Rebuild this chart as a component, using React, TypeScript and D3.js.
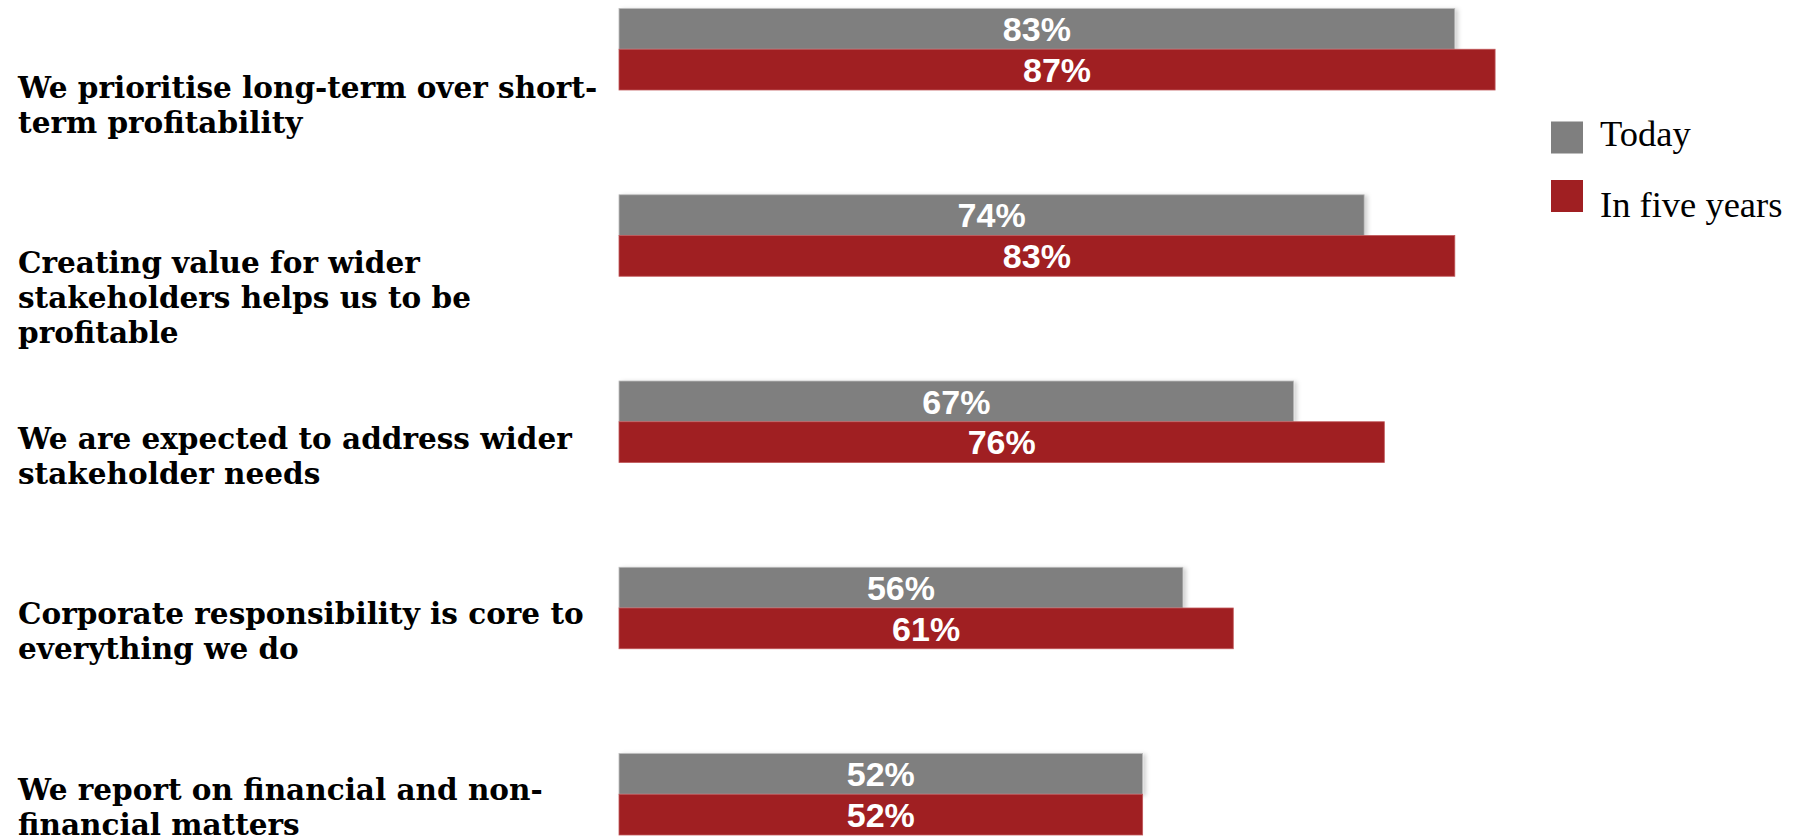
import React, { useEffect } from "react";
import * as d3 from "d3";

const categories: string[][] = [
  ["We prioritise long-term over short-", "term profitability"],
  ["Creating value for wider", "stakeholders helps us to be", "profitable"],
  ["We are expected to address wider", "stakeholder needs"],
  ["Corporate responsibility is core to", "everything we do"],
  ["We report on financial and non-", "financial matters"],
];
const seriesNames = ["Today", "In five years"];
const today = [83, 74, 67, 56, 52];
const fiveYears = [87, 83, 76, 61, 52];
const colors = ["#7f7f7f", "#a01f22"];

const W = 1794;
const H = 839;

export default function App() {
  useEffect(() => {
    document.body.style.margin = "0";
  }, []);

  const x = d3.scaleLinear().domain([0, 100]).range([619, 619 + 1007]);
  const step = 186.25;
  const pIn = 1 - 81.5 / step;
  const groupY = d3
    .scaleBand<number>()
    .domain(d3.range(5))
    .range([8.5, 8.5 + step * (5 - pIn)])
    .paddingInner(pIn)
    .paddingOuter(0);
  const barH = groupY.bandwidth() / 2;
  const labelY = d3.scalePoint<number>().domain(d3.range(5)).range([97.5, 800]);
  const lineH = 35;
  const series = [today, fiveYears];

  return (
    <svg width={W} height={H} style={{ display: "block", background: "#fff" }}>
      <defs>
        <filter id="sh" x="-5%" y="-20%" width="110%" height="140%">
          <feDropShadow dx="3" dy="1" stdDeviation="2" floodColor="#000" floodOpacity="0.18" />
        </filter>
      </defs>
      {categories.map((lines, i) => {
        const top = labelY(i)!;
        return (
          <text
            key={"l" + i}
            fontFamily="'DejaVu Serif', serif"
            fontWeight="bold"
            fontSize={29.5}
            fill="#000"
          >
            {lines.map((ln, j) => (
              <tspan key={j} x={18} y={top + j * lineH}>
                {ln}
              </tspan>
            ))}
          </text>
        );
      })}
      {series.map((vals, s) =>
        vals.map((v, i) => {
          const y0 = groupY(i)! + s * barH;
          return (
            <g key={"b" + s + "-" + i}>
              <rect
                x={x(0)}
                y={y0}
                width={x(v) - x(0)}
                height={barH}
                fill={colors[s]}
                stroke={s === 0 ? "#bdbdbd" : "#c0575a"}
                strokeWidth={0.8}
                filter={s === 0 ? "url(#sh)" : undefined}
              />
              <text
                x={(x(0) + x(v)) / 2}
                y={y0 + barH / 2}
                dy="0.36em"
                textAnchor="middle"
                fontFamily="'Liberation Sans', Arial, sans-serif"
                fontWeight="bold"
                fontSize={34}
                fill="#fff"
              >
                {v}%
              </text>
            </g>
          );
        })
      )}
      {seriesNames.map((n, s) => (
        <g key={"lg" + s}>
          <rect x={1551} y={121.5 + s * 58.5} width={32} height={32} fill={colors[s]} />
          <text
            x={1600}
            y={146 + s * 71}
            fontFamily="'Liberation Serif', 'DejaVu Serif', serif"
            fontSize={36.5}
            fill="#000"
          >
            {n}
          </text>
        </g>
      ))}
    </svg>
  );
}
